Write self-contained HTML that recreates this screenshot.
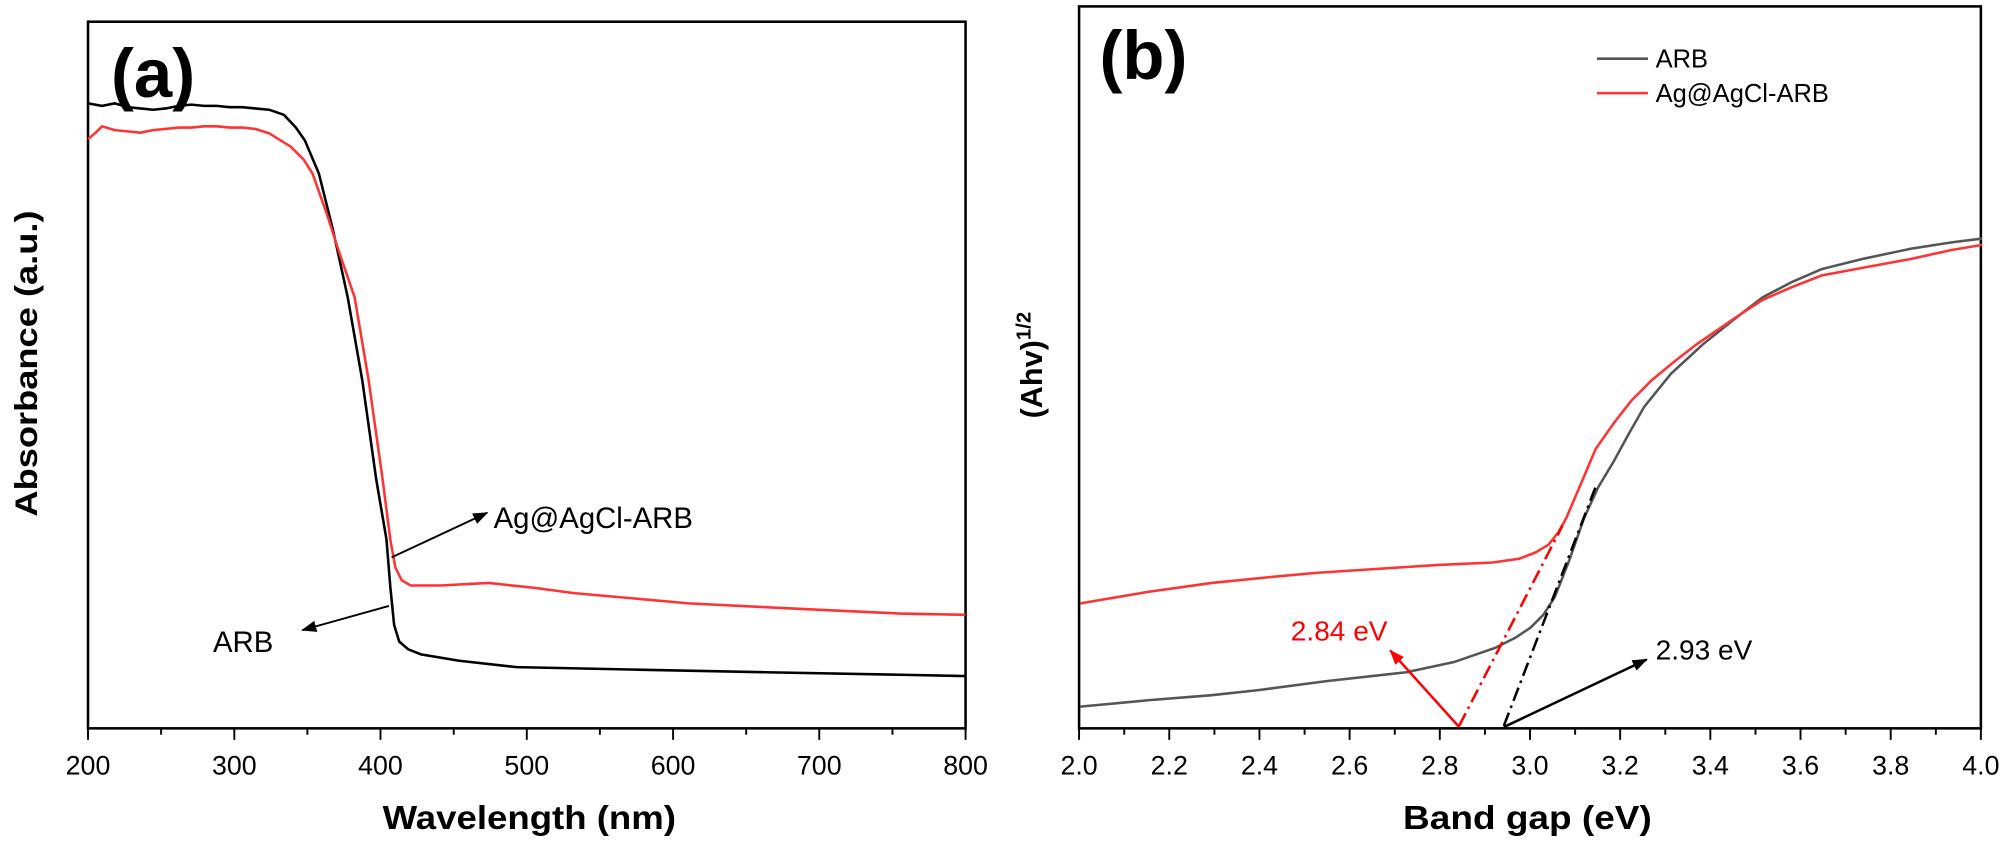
<!DOCTYPE html>
<html><head><meta charset="utf-8"><style>
html,body{margin:0;padding:0;background:#fff;}
svg{display:block;}
text{font-family:"Liberation Sans",sans-serif;}
</style></head><body>
<svg width="2000" height="847" viewBox="0 0 1568 664" xmlns="http://www.w3.org/2000/svg">
<defs>
<marker id="ak" markerWidth="12" markerHeight="9" refX="11" refY="4.5" orient="auto" markerUnits="userSpaceOnUse"><path d="M0,0 L12,4.5 L0,9 Z" fill="#000"/></marker>
<marker id="ar" markerWidth="12" markerHeight="9" refX="11" refY="4.5" orient="auto" markerUnits="userSpaceOnUse"><path d="M0,0 L12,4.5 L0,9 Z" fill="#f00"/></marker>
</defs>
<!-- Panel a -->
<rect x="69" y="17" width="688" height="554" fill="none" stroke="#000" stroke-width="2"/>
<g stroke="#000" stroke-width="1.5">
<line x1="69" y1="571" x2="69" y2="580"/><line x1="126.3" y1="571" x2="126.3" y2="576"/>
<line x1="183.7" y1="571" x2="183.7" y2="580"/><line x1="241" y1="571" x2="241" y2="576"/>
<line x1="298.3" y1="571" x2="298.3" y2="580"/><line x1="355.7" y1="571" x2="355.7" y2="576"/>
<line x1="413" y1="571" x2="413" y2="580"/><line x1="470.3" y1="571" x2="470.3" y2="576"/>
<line x1="527.7" y1="571" x2="527.7" y2="580"/><line x1="585" y1="571" x2="585" y2="576"/>
<line x1="642.3" y1="571" x2="642.3" y2="580"/><line x1="699.7" y1="571" x2="699.7" y2="576"/>
<line x1="757" y1="571" x2="757" y2="580"/>
</g>
<g font-size="21" text-anchor="middle" fill="#000">
<text x="69" y="607">200</text><text x="183.7" y="607">300</text><text x="298.3" y="607">400</text>
<text x="413" y="607">500</text><text x="527.7" y="607">600</text><text x="642.3" y="607">700</text><text x="757" y="607">800</text>
</g>
<text x="300" y="650" font-size="26" font-weight="bold" textLength="230" lengthAdjust="spacingAndGlyphs">Wavelength (nm)</text>
<text transform="translate(29,285) rotate(-90)" font-size="25" font-weight="bold" text-anchor="middle" textLength="240" lengthAdjust="spacingAndGlyphs">Absorbance (a.u.)</text>
<text x="87" y="76" font-size="54" font-weight="bold">(a)</text>
<polyline fill="none" stroke="#000" stroke-width="2" points="69,81 80,83 90,81 100,84 110,85 120,86 130,85 140,83 150,82 160,83 170,83 180,84 190,84 200,85 211,86 222.6,90 232,100 239,110 250,136 261,180 272.6,233 284,298 295,376 303,423 306,460 309,490 313,503 320,509 330,513 360,518 405,523 500,525 600,527 706,529 757,530"/>
<polyline fill="none" stroke="#f33" stroke-width="2" points="69,109 75,104 80,99 90,102 100,103 110,104 120,102 130,101 140,100 150,100 160,99 170,99 180,100 190,100 200,101 211,104.5 228,115 238,125 245,136 256,167 266,198 278,233 289,298 300,376 306,423 310,445 315,455 322,459 345,459 383,457 420,461 450,465 540,473 620,477 706,481 757,482"/>
<line x1="307" y1="437" x2="382" y2="402" stroke="#000" stroke-width="1.5" marker-end="url(#ak)"/>
<text x="387" y="414" font-size="23">Ag@AgCl-ARB</text>
<line x1="305" y1="475" x2="237" y2="494" stroke="#000" stroke-width="1.5" marker-end="url(#ak)"/>
<text x="167" y="511" font-size="23">ARB</text>
<!-- Panel b -->
<rect x="846" y="5" width="707" height="566" fill="none" stroke="#000" stroke-width="2"/>
<g stroke="#000" stroke-width="1.5">
<line x1="846" y1="571" x2="846" y2="580"/><line x1="881.4" y1="571" x2="881.4" y2="576"/>
<line x1="916.7" y1="571" x2="916.7" y2="580"/><line x1="952.1" y1="571" x2="952.1" y2="576"/>
<line x1="987.4" y1="571" x2="987.4" y2="580"/><line x1="1022.8" y1="571" x2="1022.8" y2="576"/>
<line x1="1058.1" y1="571" x2="1058.1" y2="580"/><line x1="1093.5" y1="571" x2="1093.5" y2="576"/>
<line x1="1128.8" y1="571" x2="1128.8" y2="580"/><line x1="1164.2" y1="571" x2="1164.2" y2="576"/>
<line x1="1199.5" y1="571" x2="1199.5" y2="580"/><line x1="1234.9" y1="571" x2="1234.9" y2="576"/>
<line x1="1270.2" y1="571" x2="1270.2" y2="580"/><line x1="1305.6" y1="571" x2="1305.6" y2="576"/>
<line x1="1340.9" y1="571" x2="1340.9" y2="580"/><line x1="1376.3" y1="571" x2="1376.3" y2="576"/>
<line x1="1411.6" y1="571" x2="1411.6" y2="580"/><line x1="1447" y1="571" x2="1447" y2="576"/>
<line x1="1482.3" y1="571" x2="1482.3" y2="580"/><line x1="1517.7" y1="571" x2="1517.7" y2="576"/>
<line x1="1553" y1="571" x2="1553" y2="580"/>
</g>
<g font-size="21" text-anchor="middle">
<text x="846" y="607">2.0</text><text x="916.7" y="607">2.2</text><text x="987.4" y="607">2.4</text>
<text x="1058.1" y="607">2.6</text><text x="1128.8" y="607">2.8</text><text x="1199.5" y="607">3.0</text>
<text x="1270.2" y="607">3.2</text><text x="1340.9" y="607">3.4</text><text x="1411.6" y="607">3.6</text>
<text x="1482.3" y="607">3.8</text><text x="1553" y="607">4.0</text>
</g>
<text x="1100" y="650" font-size="26" font-weight="bold" textLength="195" lengthAdjust="spacingAndGlyphs">Band gap (eV)</text>
<text transform="translate(817,328) rotate(-90)" font-size="24" font-weight="bold">(Ahv)<tspan dy="-9" font-size="16">1/2</tspan></text>
<text x="862" y="62" font-size="54" font-weight="bold">(b)</text>
<polyline fill="none" stroke="#555" stroke-width="2" points="847,554 900,549 950,545 986.6,541 1040,534 1102.6,527 1140,519 1172,508 1188,500 1200,492 1210,482 1219,468 1230,440 1242,406 1253,382 1265,362 1277,340 1289,319 1310,293 1335,270 1360,250 1382,233 1405,221 1428,211 1460,203 1498,195 1530,190 1554,187"/>
<polyline fill="none" stroke="#f33" stroke-width="2" points="847,473 900,464 950,457 1000,452 1033,449 1080,446 1126,443 1170,441 1191,438 1204,433 1214,427 1222,417 1228,406 1240,378 1251,352 1265,332 1279,314 1295,298 1312,284 1330,270 1349,257 1365,246 1382,235 1405,225 1428,216 1460,210 1498,203 1530,196 1554,192"/>
<line x1="1144" y1="569" x2="1225" y2="412" stroke="#f00" stroke-width="2" stroke-dasharray="11,4,2,4"/>
<line x1="1179" y1="569" x2="1252" y2="379" stroke="#000" stroke-width="2" stroke-dasharray="11,4,2,4"/>
<line x1="1144" y1="570" x2="1090" y2="510" stroke="#f00" stroke-width="2" marker-end="url(#ar)"/>
<text x="1012" y="502" font-size="22" fill="#f00">2.84 eV</text>
<line x1="1179" y1="570" x2="1291" y2="517" stroke="#000" stroke-width="2" marker-end="url(#ak)"/>
<text x="1298" y="517" font-size="22">2.93 eV</text>
<line x1="1252" y1="46" x2="1292" y2="46" stroke="#555" stroke-width="2"/>
<line x1="1252" y1="73" x2="1292" y2="73" stroke="#f33" stroke-width="2"/>
<text x="1298" y="53" font-size="20">ARB</text>
<text x="1298" y="80" font-size="20">Ag@AgCl-ARB</text>
</svg>
</body></html>
